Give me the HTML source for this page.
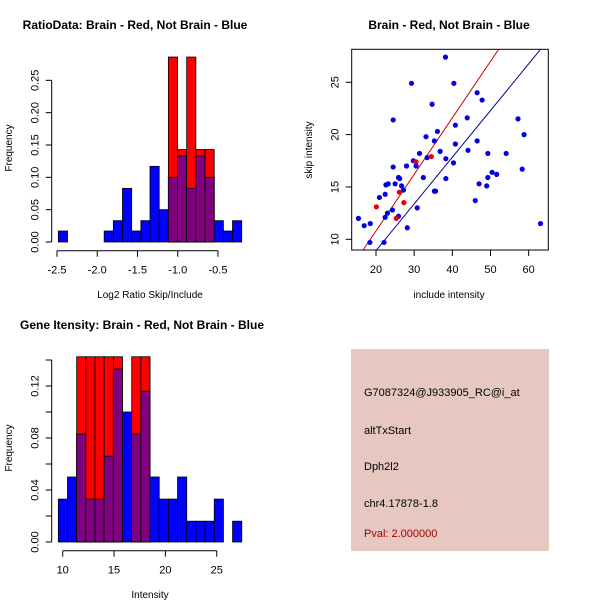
<!DOCTYPE html>
<html><head><meta charset="utf-8">
<style>
html,body{margin:0;padding:0;background:#fff;}
svg{display:block;font-family:"Liberation Sans",sans-serif;}
</style></head>
<body>
<svg id="s" width="600" height="600" viewBox="0 0 600 600">
<rect width="600" height="600" fill="#fff"/>
<g>
<rect x="351" y="349" width="198" height="202" fill="#e6c8c1"/>
<text x="364" y="396" font-size="11">G7087324@J933905_RC@i_at</text>
<text x="364" y="434" font-size="11">altTxStart</text>
<text x="364" y="470" font-size="11">Dph2l2</text>
<text x="364" y="507" font-size="11">chr4.17878-1.8</text>
<text x="364" y="537" font-size="11" fill="#a00000">Pval: 2.000000</text>
</g>
</svg>
<script>
// ---- Panel 1 data: ratio histogram
const ratioBinStart = -2.4835, ratioBinStep = 0.1139;
const ratioBlue = [0.017,0,0,0,0,0.017,0.033,0.083,0.017,0.033,0.117,0.05,0.1,0.133,0.083,0.133,0.1,0.033,0.017,0.033];
const ratioRed  = [0,0,0,0,0,0,0,0,0,0,0,0,0.286,0.143,0.286,0.143,0.143,0,0,0];
const ratioXTicks = [-2.5,-2.0,-1.5,-1.0,-0.5];
const ratioXTickLabels = ["-2.5","-2.0","-1.5","-1.0","-0.5"];
const ratioYTicks = [0,0.05,0.10,0.15,0.20,0.25];
const ratioYTickLabels = ["0.00","0.05","0.10","0.15","0.20","0.25"];
// ---- Panel 2 data: scatter
const blueX = [15.4,16.9,18.4,18.5,20.9,22.4,22.1,22.4,23.0,22.6,23.2,24.3,24.5,24.5,25.0,25.9,26.2,25.9,26.7,27.2,28.0,28.2,29.3,29.8,30.5,30.8,31.4,32.4,33.1,33.4,34.7,35.3,35.3,35.6,36.1,36.8,38.2,38.3,38.3,40.3,40.4,40.8,40.8,43.9,44.1,46.0,46.5,46.5,47.0,47.8,49.0,49.3,49.3,50.4,51.6,54.1,57.2,58.3,58.8,63.1];
const blueY = [12.0,11.3,9.7,11.5,14.0,14.3,9.7,12.1,12.5,15.2,15.3,12.8,16.9,21.4,15.3,15.9,15.8,12.2,15.1,14.7,17.0,11.1,24.9,17.5,17.0,13.0,18.2,15.9,19.8,17.8,22.9,19.4,14.6,14.6,20.3,18.4,27.4,17.7,15.8,17.3,24.9,20.9,19.1,21.6,18.5,13.7,24.0,19.4,15.3,23.3,15.1,18.2,15.9,16.4,16.2,18.2,21.5,16.7,20.0,11.5];
const redX = [20.1,25.3,26.1,27.3,30.5,34.5];
const redY = [13.1,12.0,14.5,13.5,17.4,17.9];
const lineSlopes = [0.54,0.446];
const lineColors = ["#cc0000","#00008b"];
const scXTicks = [20,30,40,50,60];
const scYTicks = [10,15,20,25];
// ---- Panel 3 data: intensity histogram
const intBinStart = 9.575, intBinStep = 0.893;
const intBlue = [0.033,0.05,0.083,0.033,0.033,0.066,0.133,0.1,0.083,0.116,0.05,0.033,0.033,0.05,0.016,0.016,0.016,0.033,0,0.016];
const intRed  = [0,0,0.1425,0.1425,0.1425,0.1425,0.1425,0,0.1425,0.1425,0,0,0,0,0,0,0,0,0,0];
const intXTicks = [10,15,20,25];
const intYTicks = [0,0.02,0.04,0.06,0.08,0.10,0.12,0.14];
const intYTickLabels = ["0.00","","0.04","","0.08","","0.12",""];

const NS="http://www.w3.org/2000/svg", svg=document.getElementById('s');
function mk(tag, attrs, parent){const e=document.createElementNS(NS,tag);for(const k in attrs)e.setAttribute(k,attrs[k]);(parent||svg).appendChild(e);return e;}
function txt(x,y,s,size,opts,parent){const t=mk('text',Object.assign({x:x,y:y,'font-size':size,'text-anchor':'middle'},opts||{}),parent);t.textContent=s;return t;}

function histogram(cfg){
  const g=mk('g',{});
  
  
  const sx=v=>cfg.x0px+(v-cfg.x0)*cfg.xs, sy=v=>cfg.y0px-v*cfg.ys;
  for(let i=0;i<cfg.blue.length;i++){
    const l=sx(cfg.start+i*cfg.step), r=sx(cfg.start+(i+1)*cfg.step);
    const b=cfg.blue[i], rd=cfg.red[i];
    if(b>0){const e=mk('rect',{x:l,y:sy(b),width:r-l,height:b*cfg.ys,fill:'#0000ff',stroke:'#000','stroke-width':0.8},g);
      }
    if(rd>0){const e=mk('rect',{x:l,y:sy(rd),width:r-l,height:rd*cfg.ys,fill:'#ff0000',stroke:'#000','stroke-width':0.8},g);
      }
    const m=Math.min(b,rd);
    if(m>0){const e=mk('rect',{x:l,y:sy(m),width:r-l,height:m*cfg.ys,fill:'#800080',stroke:'#000','stroke-width':0.8},g);
      }
  }
  // x axis
  const xa=mk('g',{},g);
  mk('line',{x1:sx(cfg.xt[0]),x2:sx(cfg.xt[cfg.xt.length-1]),y1:cfg.axY,y2:cfg.axY,stroke:'#000'},xa);
  cfg.xt.forEach((v,i)=>{mk('line',{x1:sx(v),x2:sx(v),y1:cfg.axY,y2:cfg.axY+6,stroke:'#000'},xa);
    const t=txt(sx(v),cfg.axY+23,cfg.xl[i],11,{},xa);});
  // y axis
  const ya=mk('g',{},g);
  mk('line',{x1:cfg.axX,x2:cfg.axX,y1:sy(cfg.yt[0]),y2:sy(cfg.yt[cfg.yt.length-1]),stroke:'#000'},ya);
  cfg.yt.forEach((v,i)=>{mk('line',{x1:cfg.axX-6,x2:cfg.axX,y1:sy(v),y2:sy(v),stroke:'#000'},ya);
    if(cfg.yl[i]){const t=txt(cfg.axX-13,sy(v),cfg.yl[i],11,{transform:`rotate(-90 ${cfg.axX-13} ${sy(v)})`},ya);}});
  const t1=txt(cfg.titleX,cfg.titleY,cfg.title,12,{'font-weight':'bold'},g);
  const t2=txt(cfg.xlabX,cfg.xlabY,cfg.xlab,10,{},g);
  const t3=txt(12,cfg.ylabY,'Frequency',10,{transform:`rotate(-90 12 ${cfg.ylabY})`},g);
}

histogram({name:'ratio-histogram',blue:ratioBlue,red:ratioRed,start:ratioBinStart,step:ratioBinStep,
  x0:-2.5,x0px:57,xs:80.5,y0px:242,ys:646.7,axY:250.7,axX:51.7,
  xt:ratioXTicks,xl:ratioXTickLabels,yt:ratioYTicks,yl:ratioYTickLabels,
  title:'RatioData: Brain - Red, Not Brain - Blue',titleX:135,titleY:29,xlab:'Log2 Ratio Skip/Include',xlabX:150,xlabY:298,ylabY:148});

histogram({name:'intensity-histogram',blue:intBlue,red:intRed,start:intBinStart,step:intBinStep,
  x0:10,x0px:62.7,xs:10.27,y0px:542,ys:1300,axY:550.7,axX:51.7,
  xt:intXTicks,xl:intXTicks.map(String),yt:intYTicks,yl:intYTickLabels,
  title:'Gene Itensity: Brain - Red, Not Brain - Blue',titleX:142,titleY:329,xlab:'Intensity',xlabX:150,xlabY:598,ylabY:448});

// scatter
(function(){
  const g=mk('g',{});
  
  
  const L=351.7,R=548.3,T=49.3,B=250;
  const sx=v=>376+(v-20)*3.817, sy=v=>239.3-(v-10)*10.47;
  const clip=mk('clipPath',{id:'cp'},g);mk('rect',{x:L,y:T,width:R-L,height:B-T},clip);
  lineSlopes.forEach((m,i)=>{const x1=10,x2=70;
    const e=mk('line',{x1:sx(x1),y1:sy(m*x1),x2:sx(x2),y2:sy(m*x2),stroke:lineColors[i],'stroke-width':1,'clip-path':'url(#cp)'},g);
    });
  blueX.forEach((x,i)=>{const e=mk('circle',{cx:sx(x),cy:sy(blueY[i]),r:2.6,fill:'#0000e0'},g);
    });
  redX.forEach((x,i)=>{const e=mk('circle',{cx:sx(x),cy:sy(redY[i]),r:2.6,fill:'#ee0000'},g);
    });
  const box=mk('rect',{x:L,y:T,width:R-L,height:B-T,fill:'none',stroke:'#000'},g);
  
  scXTicks.forEach(v=>{mk('line',{x1:sx(v),x2:sx(v),y1:B,y2:B+6,stroke:'#000'},g);
    const t=txt(sx(v),B+23,String(v),11,{},g);});
  scYTicks.forEach(v=>{mk('line',{x1:L-6,x2:L,y1:sy(v),y2:sy(v),stroke:'#000'},g);
    const t=txt(L-13,sy(v),String(v),11,{transform:`rotate(-90 ${L-13} ${sy(v)})`},g);});
  const t1=txt(449,29,'Brain - Red, Not Brain - Blue',12,{'font-weight':'bold'},g);
  const t2=txt(449,298,'include intensity',10,{},g);
  const t3=txt(312,150,'skip intensity',10,{transform:'rotate(-90 312 150)'},g);
})();
</script>
</body></html>
